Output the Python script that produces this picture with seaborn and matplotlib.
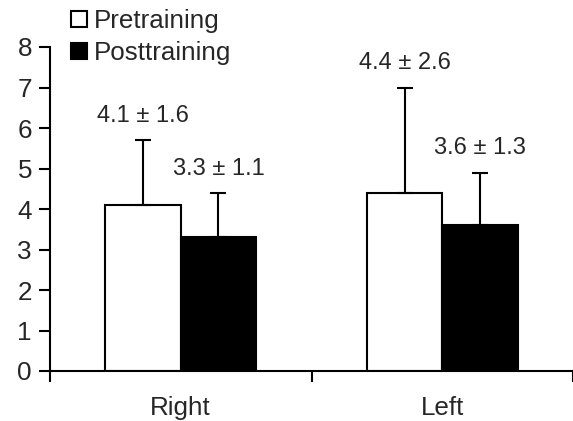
import pandas as pd
import matplotlib.pyplot as plt
import seaborn as sns

# Datos
sides = ['Right', 'Left']
groups = ['Pretraining', 'Posttraining']
pre_mean = [4.1, 4.4]
pre_sd = [1.6, 2.6]
post_mean = [3.3, 3.6]
post_sd = [1.1, 1.3]

df = pd.DataFrame({
  'side': sides * 2,
  'group': [groups[0]] * 2 + [groups[1]] * 2,
  'mean': pre_mean + post_mean,
  'sd': pre_sd + post_sd,
})

sns.set_style('white')
plt.rcParams['font.family'] = ['Liberation Sans', 'DejaVu Sans']
fs = 18.7

fig = plt.figure(figsize=(5.73, 4.21), dpi=100)
ax = fig.add_axes([50 / 573, 1 - 371 / 421, 523 / 573, 324 / 421])

sns.barplot(data=df, x='side', y='mean', hue='group', hue_order=groups,
            palette=['white', 'black'], width=0.576, edgecolor='black',
            linewidth=1.5, errorbar=None, ax=ax, saturation=1)

# Barras de error (solo hacia arriba) y etiquetas
for i, g in enumerate(groups):
  sub = df[df['group'] == g]
  bars = ax.containers[i]
  for bar, (_, row) in zip(bars, sub.iterrows()):
    cx = bar.get_x() + bar.get_width() / 2
    ax.errorbar(cx, row['mean'], yerr=[[0], [row['sd']]], fmt='none',
                ecolor='black', elinewidth=1.5, capsize=5.5, capthick=1.5)
    ax.text(cx, row['mean'] + row['sd'] + 0.6,
            f"{row['mean']:.1f} ± {row['sd']:.1f}", ha='center', va='center',
            fontsize=17)

ax.set_xlim(-0.5, 1.48)
ax.set_ylim(0, 8)
ax.set_yticks(range(9))
ax.set_xticks([-0.5, 0.5, 1.5])
ax.set_xticklabels([])
ax.set_xticks([0, 1], minor=True)
ax.set_xticklabels(sides, minor=True, fontsize=fs)
ax.tick_params(axis='x', which='major', direction='out', length=8, width=1.5,
               bottom=True, color='black')
ax.tick_params(axis='x', which='minor', length=0, pad=18)
ax.tick_params(axis='y', direction='out', length=8, width=1.5, left=True,
               color='black', labelsize=fs, pad=5)
ax.set_xlabel('')
ax.set_ylabel('')
for s in ['top', 'right']:
  ax.spines[s].set_visible(False)
for s in ['left', 'bottom']:
  ax.spines[s].set_linewidth(1.5)
  ax.spines[s].set_color('black')

leg = ax.legend(loc='upper left', bbox_to_anchor=(71 / 573, 1 - 9 / 421),
                bbox_transform=fig.transFigure, frameon=False, fontsize=fs,
                handlelength=0.6, handleheight=0.6, handletextpad=0.3,
                labelspacing=0.32, borderpad=0, borderaxespad=0)

fig.savefig('out.png', dpi=100)
